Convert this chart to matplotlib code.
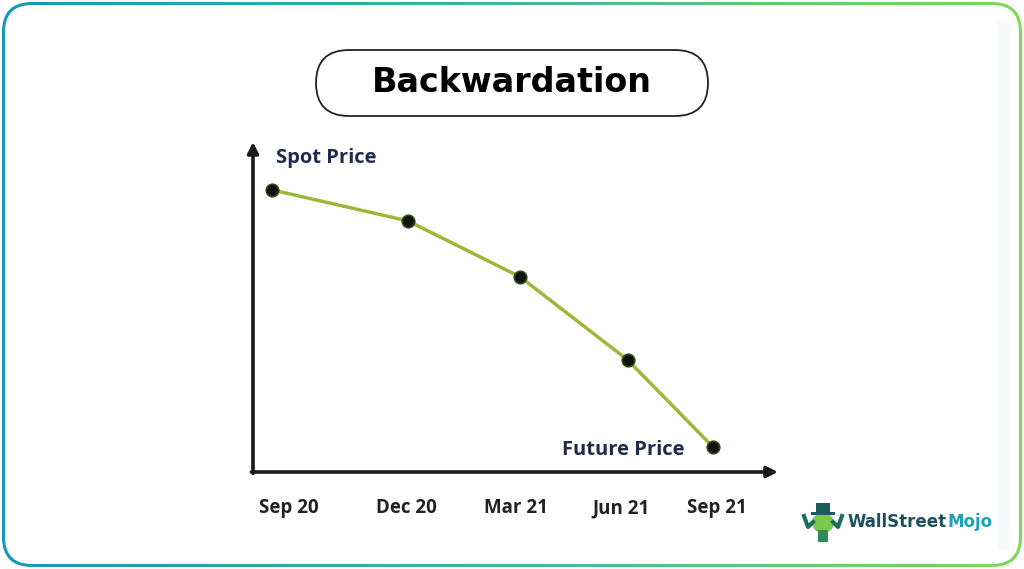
import numpy as np
import matplotlib.pyplot as plt
from matplotlib.patches import FancyBboxPatch, Ellipse
from matplotlib.colors import LinearSegmentedColormap

# data (axis runs 0..100 in both directions)
months = ['Sep 20', 'Dec 20', 'Mar 21', 'Jun 21', 'Sep 21']
x_pos = [3.6, 29.5, 50.9, 71.4, 87.6]
price = [85.5, 76.1, 59.1, 33.9, 7.6]
label_pos = [6.9, 29.3, 50.1, 70.1, 88.4]

W, H = 1024, 569
fig = plt.figure(figsize=(W / 100, H / 100), dpi=100)

# background frame with gradient border
bg = fig.add_axes([0, 0, 1, 1])
bg.set_xlim(0, W)
bg.set_ylim(H, 0)
bg.axis('off')
cmap = LinearSegmentedColormap.from_list('frame', ['#1599b4', '#3fb99a', '#7fd957'])
outer = FancyBboxPatch((2, 2), W - 4, H - 4, boxstyle='round,pad=0,rounding_size=30',
                       fc='none', ec='none')
bg.add_patch(outer)
grad = np.linspace(0, 1, 256).reshape(1, -1)
im = bg.imshow(grad, cmap=cmap, extent=(0, W, H, 0), aspect='auto')
im.set_clip_path(outer)
inner = FancyBboxPatch((5, 5), W - 10, H - 10, boxstyle='round,pad=0,rounding_size=27',
                       fc='white', ec='none', zorder=2)
bg.add_patch(inner)
bg.add_patch(plt.Rectangle((997, 20), 12, 530, fc='#f8f9fa', ec='none', zorder=2))

# title pill
pill = FancyBboxPatch((316, 50), 392, 66, boxstyle='round,pad=0,rounding_size=33',
                      fc='white', ec='#222222', lw=1.3, zorder=3)
bg.add_patch(pill)
bg.text(512, 82, 'Backwardation', ha='center', va='center', fontsize=24,
        fontweight='bold', family='DejaVu Sans', color='black', zorder=4)

# logo
t = bg.text(848, 522, 'WallStreet', ha='left', va='center', fontsize=12,
            fontweight='bold', family='DejaVu Sans', color='#1d4f5c', zorder=4)
bg.annotate('Mojo', xy=(1, 0.5), xycoords=t, ha='left', va='center', fontsize=12,
            fontweight='bold', family='DejaVu Sans', color='#1aa3b5', zorder=4)
bg.add_patch(plt.Rectangle((816, 503), 14, 10, fc='#1d5a5c', ec='none', zorder=5))
bg.add_patch(plt.Rectangle((811, 512), 24, 3, fc='#1d5a5c', ec='none', zorder=5))
bg.add_patch(Ellipse((823, 523), 22, 20, fc='#7cc84a', ec='none', zorder=4))
bg.add_patch(plt.Rectangle((818, 530), 10, 12, fc='#2f8a5a', ec='none', zorder=4))
bg.plot([804, 808, 813], [516, 527, 522], color='#1d6f5c', lw=3, zorder=4)
bg.plot([833, 838, 842], [522, 527, 516], color='#1d6f5c', lw=3, zorder=4)

# main chart
ax = fig.add_axes([253 / W, (H - 472) / H, (778 - 253) / W, (472 - 142) / H])
ax.set_xlim(0, 100)
ax.set_ylim(0, 100)
ax.patch.set_alpha(0)
for s in ax.spines.values():
    s.set_visible(False)

arrow = dict(arrowstyle='-|>', color='#1a1a1a', lw=2.6, mutation_scale=16,
             shrinkA=0, shrinkB=0)
ax.annotate('', xy=(100, 0), xytext=(-0.3, 0), arrowprops=arrow)
ax.annotate('', xy=(0, 100), xytext=(0, -0.4), arrowprops=arrow)

ax.plot(x_pos, price, color='#9cb83a', lw=2.5, zorder=3)
ax.plot(x_pos, price, 'o', ms=9, mfc='#111111', mec='#33481a', mew=1.2, zorder=4)

ax.set_xticks(label_pos, months)
ax.set_yticks([])
ax.tick_params(axis='x', length=0, pad=19)
for lbl in ax.get_xticklabels():
    lbl.set_fontsize(13.5)
    lbl.set_fontweight('bold')
    lbl.set_family('Open Sans')
    lbl.set_color('#222222')

ax.text(4.4, 95, 'Spot Price', ha='left', va='center', fontsize=14.5,
        fontweight='bold', family='Open Sans', color='#1f2b4a')
ax.text(58.9, 6.7, 'Future Price', ha='left', va='center', fontsize=14.5,
        fontweight='bold', family='Open Sans', color='#1f2b4a')

plt.savefig('out.png', dpi=100)
